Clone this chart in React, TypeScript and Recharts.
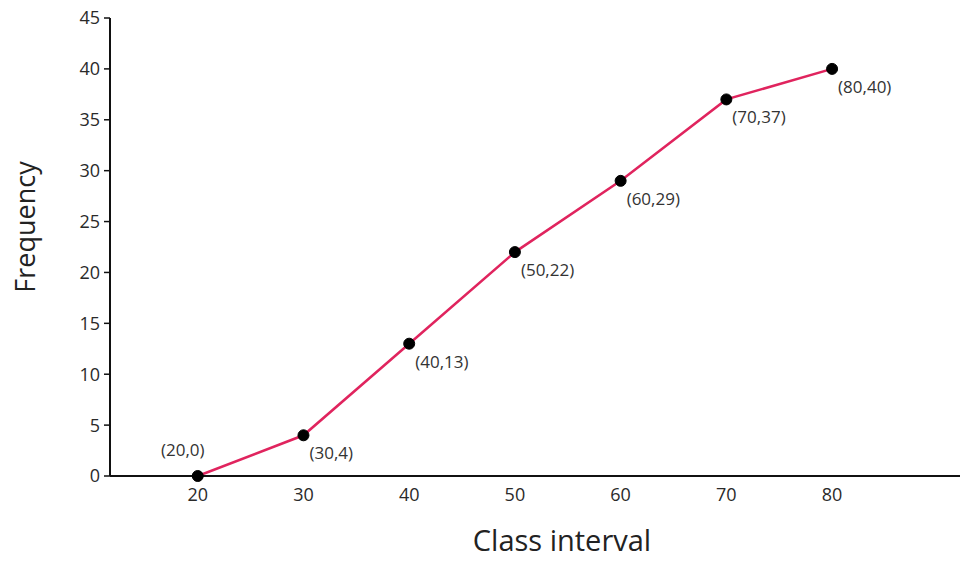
import React from 'react';
import { Label, Line, LineChart, XAxis, YAxis } from 'recharts';

const classLimits = [20, 30, 40, 50, 60, 70, 80];
const frequencies = [0, 4, 13, 22, 29, 37, 40];
const xTicks = [20, 30, 40, 50, 60, 70, 80];
const yTicks = [0, 5, 10, 15, 20, 25, 30, 35, 40, 45];

const data = classLimits.map((c, i) => ({ x: c, y: frequencies[i] }));

const FONT = '"Open Sans", sans-serif';

const PointLabel = (props: any) => {
  const { x, y, index } = props;
  const d = data[index];
  if (!d) return null;
  const text = `(${d.x},${d.y})`;
  if (index === 0) {
    return (
      <text x={x - 15} y={y - 20} textAnchor="middle" fontSize={17} fontFamily={FONT} fill="#333">
        {text}
      </text>
    );
  }
  return (
    <text x={x + 6} y={y + 24} textAnchor="start" fontSize={17} fontFamily={FONT} fill="#333">
      {text}
    </text>
  );
};

export default function App() {
  return (
    <div style={{ position: 'absolute', left: 0, top: 0, background: '#fff' }}>
      <LineChart
        width={966}
        height={562}
        data={data}
        margin={{ top: 18, right: 6, bottom: 56, left: 50 }}
      >
        <XAxis
          dataKey="x"
          type="number"
          domain={[11.7, 92.1]}
          ticks={xTicks}
          tickLine={false}
          axisLine={{ stroke: '#111', strokeWidth: 2 }}
          tick={{ fill: '#2a2a2a', fontSize: 18, fontFamily: FONT }}
          tickMargin={6}
          height={30}
        >
          <Label
            value="Class interval"
            position="bottom"
            offset={24}
            dx={27}
            style={{ fill: '#222', fontSize: 29, fontFamily: FONT }}
          />
        </XAxis>
        <YAxis
          type="number"
          domain={[0, 45]}
          ticks={yTicks}
          width={60}
          tickSize={6}
          tickMargin={4}
          tickLine={{ stroke: '#111', strokeWidth: 1.5 }}
          axisLine={{ stroke: '#111', strokeWidth: 2 }}
          tick={{ fill: '#2a2a2a', fontSize: 18, fontFamily: FONT }}
        >
          <Label
            value="Frequency"
            angle={-90}
            position="insideLeft"
            offset={-25}
            dy={-20}
            style={{ fill: '#222', fontSize: 27, fontFamily: FONT, textAnchor: 'middle' }}
          />
        </YAxis>
        <Line
          dataKey="y"
          type="linear"
          stroke="#e0245e"
          strokeWidth={2.5}
          dot={{ r: 5.5, fill: '#000', stroke: '#000', strokeWidth: 1 }}
          activeDot={false}
          label={<PointLabel />}
          isAnimationActive={false}
        />
      </LineChart>
    </div>
  );
}
